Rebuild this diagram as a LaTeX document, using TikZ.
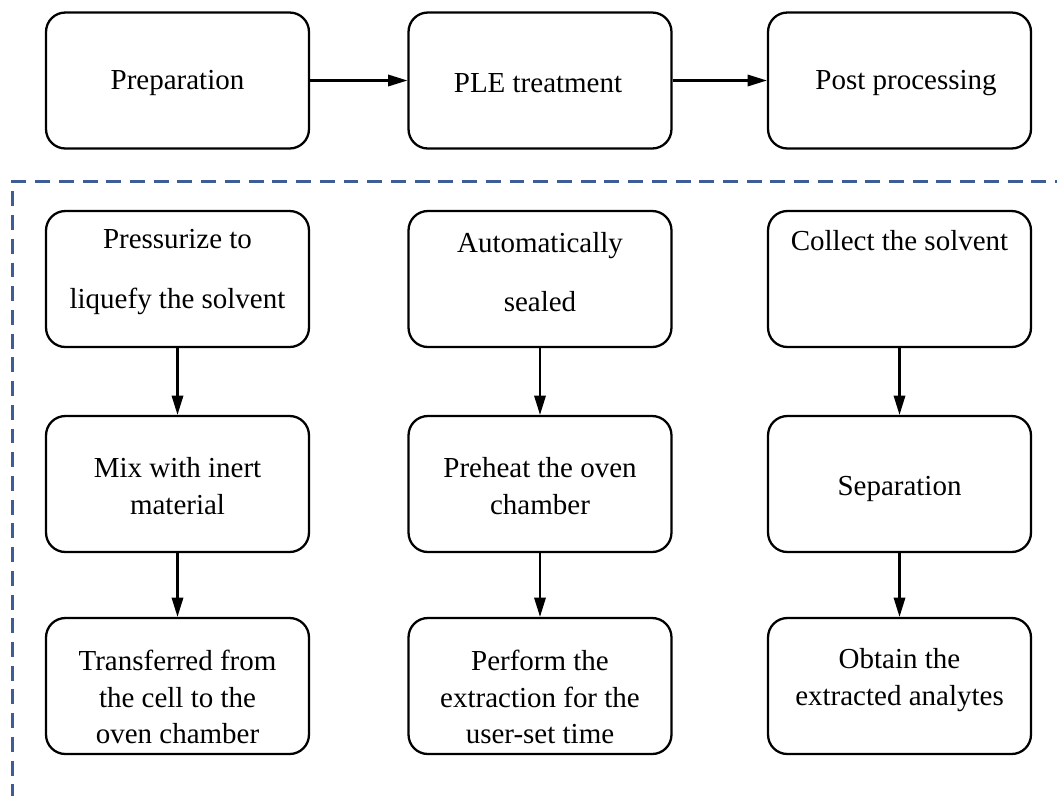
\documentclass[tikz,border=0pt]{standalone}
\usepackage{fontspec}
\setmainfont{Liberation Serif}
\usetikzlibrary{arrows.meta}
\definecolor{dashblue}{RGB}{62,92,150}
\tikzset{
  box/.style={draw, line width=1.3pt, rounded corners=11pt, minimum width=5.26cm, minimum height=2.72cm, inner sep=0pt},
  txt/.style={align=center, font=\fontsize{16.5}{21}\selectfont, inner sep=0pt},
  txtwide/.style={align=center, font=\fontsize{16.5}{34}\selectfont, inner sep=0pt},
  flow/.style={line width=1.2pt, -{Triangle[length=11pt,width=6.5pt]}},
  frame/.style={dashblue, line width=1.2pt, dash pattern=on 8.5pt off 5pt}
}
\begin{document}
\begin{tikzpicture}[x=0.02cm,y=-0.02cm]
\useasboundingbox (0,0) rectangle (1057,795);
% dashed frame
\coordinate (fr) at (1070,181.5);
\coordinate (fc) at (12.5,181.5);
\coordinate (fb) at (12.5,800);
\draw[frame] (fr) -- (fc) -- (fb);
% top row
\node[box] (prep) at (177.5,80.5) {};
\node[box] (ple) at (540,80.5) {};
\node[box] (post) at (899.5,80.5) {};
\node[txt] (tprep) at (177.5,83) {Preparation};
\node[txt] (tple) at (538,83) {PLE treatment};
\node[txt] (tpost) at (906,83) {Post processing};
\draw[flow] (prep) -- (ple);
\draw[flow] (ple) -- (post);
% row 2
\node[box] (a1) at (177.5,279) {};
\node[box] (b1) at (540,279) {};
\node[box] (c1) at (899.5,279) {};
\node[txtwide] (ta1) at (177.5,272) {Pressurize to\\liquefy the solvent};
\node[txtwide] (tb1) at (540,272) {Automatically\\sealed};
\node[txt] (tc1) at (899.5,241) {Collect the solvent};
% row 3
\node[box] (a2) at (177.5,484) {};
\node[box] (b2) at (540,484) {};
\node[box] (c2) at (899.5,484) {};
\node[txt] (ta2) at (177.5,486) {Mix with inert\\material};
\node[txt] (tb2) at (540,486) {Preheat the oven\\chamber};
\node[txt] (tc2) at (899.5,489) {Separation};
% row 4
\node[box] (a3) at (177.5,686) {};
\node[box] (b3) at (540,686) {};
\node[box] (c3) at (899.5,686) {};
\node[txt] (ta3) at (177.5,697) {Transferred from\\the cell to the\\oven chamber};
\node[txt] (tb3) at (540,697) {Perform the\\extraction for the\\user-set time};
\node[txt] (tc3) at (899.5,680) {Obtain the\\extracted analytes};
% vertical arrows
\draw[flow] (a1) -- (a2);
\draw[flow] (a2) -- (a3);
\draw[flow] (b1) -- (b2);
\draw[flow] (b2) -- (b3);
\draw[flow] (c1) -- (c2);
\draw[flow] (c2) -- (c3);
\end{tikzpicture}
\end{document}
